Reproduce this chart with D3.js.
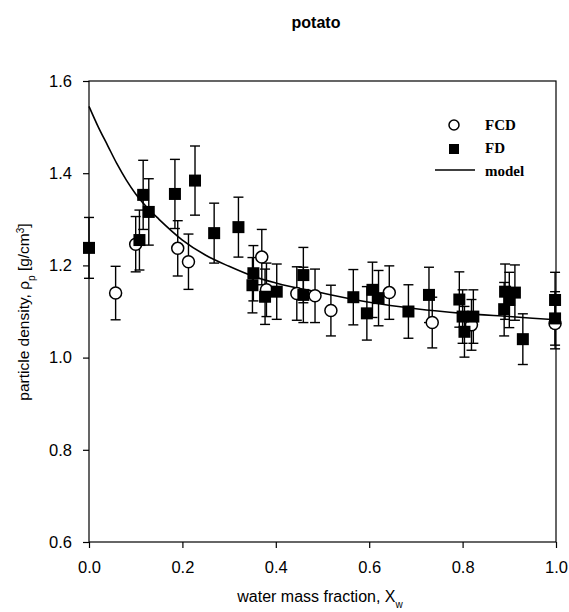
<!DOCTYPE html>
<html>
<head>
<meta charset="utf-8">
<script src="https://cdn.jsdelivr.net/npm/d3@7"></script>
<style>
  body { margin: 0; background: #fff; }
  text { font-family: "Liberation Sans", Arial, sans-serif; }
</style>
</head>
<body>
<script>
// FCD (open circles)
var fcdX = [0.057, 0.100, 0.190, 0.213, 0.370, 0.380, 0.445, 0.484, 0.518, 0.643, 0.735, 0.819, 0.998]
var fcdY = [1.140, 1.246, 1.237, 1.208, 1.218, 1.147, 1.139, 1.134, 1.102, 1.141, 1.076, 1.071, 1.074]
var fcdErr = [0.058, 0.060, 0.060, 0.060, 0.060, 0.058, 0.058, 0.058, 0.055, 0.058, 0.055, 0.055, 0.055]

// FD (filled squares)
var fdX = [0.000, 0.108, 0.116, 0.128, 0.184, 0.227, 0.268, 0.320, 0.350, 0.352, 0.377, 0.402, 0.459, 0.459, 0.566, 0.595,
           0.607, 0.620, 0.684, 0.728, 0.793, 0.800, 0.804, 0.823, 0.889, 0.891, 0.900, 0.912, 0.929, 0.998, 0.998]
var fdY = [1.238, 1.255, 1.353, 1.316, 1.355, 1.384, 1.270, 1.283, 1.157, 1.183, 1.132, 1.143, 1.179, 1.136, 1.131, 1.096,
           1.147, 1.129, 1.100, 1.136, 1.126, 1.089, 1.056, 1.089, 1.105, 1.143, 1.125, 1.141, 1.040, 1.125, 1.085]
var fdErr = [0.066, 0.065, 0.075, 0.072, 0.075, 0.075, 0.065, 0.065, 0.060, 0.060, 0.060, 0.060, 0.060, 0.060, 0.060, 0.058,
             0.060, 0.060, 0.058, 0.060, 0.060, 0.058, 0.055, 0.058, 0.058, 0.060, 0.060, 0.060, 0.055, 0.060, 0.058]

// model curve
var modelX = [0, 0.02, 0.04, 0.06, 0.08, 0.10, 0.125, 0.15, 0.20, 0.25, 0.30, 0.35, 0.40, 0.50, 0.60, 0.70, 0.80, 0.90, 1.00]
var modelY = [1.545, 1.50, 1.46, 1.42, 1.385, 1.355, 1.325, 1.30, 1.255, 1.222, 1.198, 1.177, 1.162, 1.140, 1.120, 1.106, 1.096, 1.089, 1.082]

var xTicks = [0.0, 0.2, 0.4, 0.6, 0.8, 1.0]
var yTicks = [0.6, 0.8, 1.0, 1.2, 1.4, 1.6]

var width = 569
var height = 612
var plotLeft = 89, plotRight = 556, plotTop = 81, plotBottom = 542

var svg = d3.select("body").append("svg")
	.attr("width", width)
	.attr("height", height)

var x = d3.scaleLinear().domain([0, 1]).range([plotLeft, plotRight])
var y = d3.scaleLinear().domain([0.6, 1.6]).range([plotBottom, plotTop])

// title
svg.append("text")
	.attr("x", 316).attr("y", 28)
	.attr("text-anchor", "middle")
	.style("font-size", "16px").style("font-weight", "bold")
	.text("potato")

// frame
svg.append("rect")
	.attr("x", plotLeft).attr("y", plotTop)
	.attr("width", plotRight - plotLeft).attr("height", plotBottom - plotTop)
	.style("fill", "none").style("stroke", "#000").style("stroke-width", 1.2)

var xAxis = svg.append("g")
	.attr("transform", "translate(0," + plotBottom + ")")
	.call(d3.axisBottom(x).tickValues(xTicks).tickFormat(d3.format(".1f")).tickSize(6).tickPadding(13))
var yAxis = svg.append("g")
	.attr("transform", "translate(" + plotLeft + ",0)")
	.call(d3.axisLeft(y).tickValues(yTicks).tickFormat(d3.format(".1f")).tickSize(6).tickPadding(11))

svg.selectAll(".domain").remove()
svg.selectAll(".tick line").style("stroke", "#000").style("stroke-width", 1.2)
svg.selectAll(".tick text")
	.style("font-size", "16.5px")
	.style("font-family", "'Liberation Sans', Arial, sans-serif")
	.style("fill", "#000")

// axis labels
var yl = svg.append("text")
	.attr("transform", "translate(29," + 312 + ") rotate(-90)")
	.attr("text-anchor", "middle")
	.style("font-size", "15.5px")
yl.append("tspan").text("particle density, \u03c1")
yl.append("tspan").attr("baseline-shift", "sub").style("font-size", "10px").text("p")
yl.append("tspan").text(" [g/cm")
yl.append("tspan").attr("baseline-shift", "super").style("font-size", "10px").text("3")
yl.append("tspan").text("]")

var xl = svg.append("text")
	.attr("x", 320).attr("y", 602)
	.attr("text-anchor", "middle")
	.style("font-size", "16px")
xl.append("tspan").text("water mass fraction, X")
xl.append("tspan").attr("baseline-shift", "sub").style("font-size", "10px").text("w")

// model curve
var model = modelX.map(function(d, i) { return [d, modelY[i]] })
svg.append("path")
	.datum(model)
	.attr("d", d3.line().x(function(d) { return x(d[0]) }).y(function(d) { return y(d[1]) }).curve(d3.curveMonotoneX))
	.style("fill", "none").style("stroke", "#000").style("stroke-width", 1.6)

var fcd = fcdX.map(function(d, i) { return {x: d, y: fcdY[i], e: fcdErr[i]} })
var fd = fdX.map(function(d, i) { return {x: d, y: fdY[i], e: fdErr[i]} })

function errorBars(data) {
	var g = svg.append("g").style("stroke", "#000").style("stroke-width", 1.4)
	data.forEach(function(d) {
		g.append("line")
			.attr("x1", x(d.x)).attr("x2", x(d.x))
			.attr("y1", y(d.y - d.e)).attr("y2", y(d.y + d.e))
		;[d.y - d.e, d.y + d.e].forEach(function(v) {
			g.append("line")
				.attr("x1", x(d.x) - 5).attr("x2", x(d.x) + 5)
				.attr("y1", y(v)).attr("y2", y(v))
		})
	})
}
errorBars(fcd)
errorBars(fd)

svg.append("g").selectAll("circle")
	.data(fcd)
	.enter()
	.append("circle")
	.attr("cx", function(d) { return x(d.x) })
	.attr("cy", function(d) { return y(d.y) })
	.attr("r", 6)
	.style("fill", "#fff").style("stroke", "#000").style("stroke-width", 1.5)

svg.append("g").selectAll("rect")
	.data(fd)
	.enter()
	.append("rect")
	.attr("x", function(d) { return x(d.x) - 6 })
	.attr("y", function(d) { return y(d.y) - 6 })
	.attr("width", 12).attr("height", 12)
	.style("fill", "#000")

// legend
var lg = svg.append("g")
lg.append("circle").attr("cx", 454).attr("cy", 125).attr("r", 5)
	.style("fill", "#fff").style("stroke", "#000").style("stroke-width", 1.5)
lg.append("rect").attr("x", 449).attr("y", 144).attr("width", 10).attr("height", 10).style("fill", "#000")
lg.append("line").attr("x1", 435).attr("x2", 475).attr("y1", 170).attr("y2", 170)
	.style("stroke", "#000").style("stroke-width", 1.4)
var legendNames = ["FCD", "FD", "model"]
lg.selectAll("text.lbl")
	.data(legendNames)
	.enter()
	.append("text")
	.attr("x", 485)
	.attr("y", function(d, i) { return 130 + i * 23 })
	.style("font-family", "'Liberation Serif', 'Times New Roman', serif")
	.style("font-size", "15px").style("font-weight", "bold")
	.text(function(d) { return d })
</script>
</body>
</html>
